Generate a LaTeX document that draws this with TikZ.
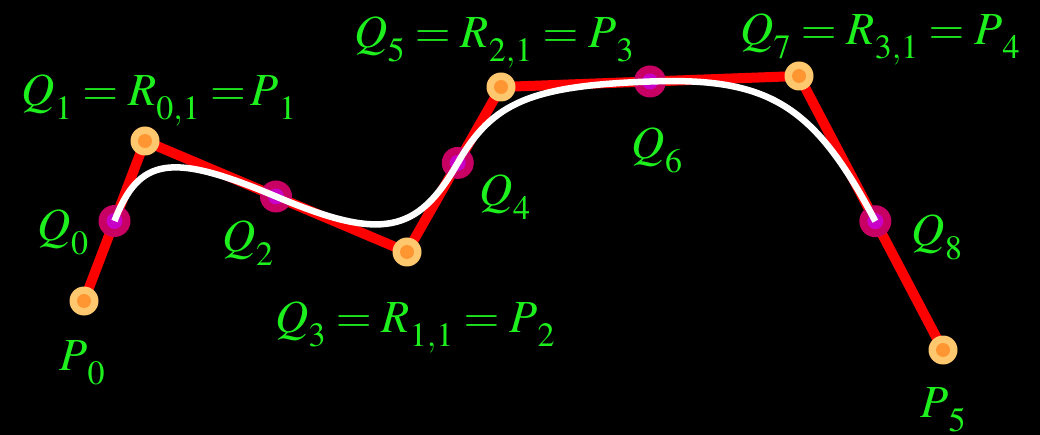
\documentclass[tikz,border=0pt]{standalone}
\usepackage{mathptmx}
\usetikzlibrary{calc}
\DeclareMathSizes{46}{46}{34}{26}
\definecolor{lblgreen}{RGB}{30,240,30}
\definecolor{orangeout}{RGB}{255,200,110}
\definecolor{orangein}{RGB}{255,150,50}
\definecolor{magout}{RGB}{200,0,100}
\definecolor{magin}{RGB}{200,0,200}
\definecolor{polyred}{RGB}{255,0,0}
\newcommand\lsub[1]{\raisebox{-0.3em}{$\scriptstyle #1$}}
\tikzset{
  pdot/.style={circle, fill=orangeout, minimum size=29pt, inner sep=0pt,
    path picture={\fill[orangein] (path picture bounding box.center) circle (7pt);}},
  qdot/.style={circle, fill=magout, minimum size=32pt, inner sep=0pt,
    path picture={\fill[magin] (path picture bounding box.center) circle (8pt);}},
  lbl/.style={text=lblgreen, inner sep=0pt, font=\fontsize{46}{52}\selectfont},
  poly/.style={polyred, line width=10pt, line join=round},
  spline/.style={white, line width=6.5pt}
}
\begin{document}
\begin{tikzpicture}[x=1pt,y=-1pt]
\fill[black] (0,0) rectangle (1040,435);
\useasboundingbox (0,0) rectangle (1040,435);
\coordinate (P0) at (84,301);
\coordinate (P1) at (145,141);
\coordinate (P2) at (407,252);
\coordinate (P3) at (501,87);
\coordinate (P4) at (799,76);
\coordinate (P5) at (943,350);
\coordinate (Q0) at ($(P0)!0.5!(P1)$);
\coordinate (Q2) at ($(P1)!0.5!(P2)$);
\coordinate (Q4) at ($(P2)!0.54!(P3)$);
\coordinate (Q6) at ($(P3)!0.5!(P4)$);
\coordinate (Q8) at ($(P4)!0.53!(P5)$);
% control polygon
\draw[poly] (P0) -- (P1) -- (P2) -- (P3) -- (P4) -- (P5);
% dots
\foreach \i in {0,...,5} { \node[pdot] (p\i) at (P\i) {}; }
\foreach \i in {0,2,4,6,8} { \node[qdot] (q\i) at (Q\i) {}; }
% curve
\def\k{0.8}
\draw[spline] (Q0)
  .. controls ($(Q0)!\k!(P1)$) and ($(Q2)!\k!(P1)$) .. (Q2)
  .. controls ($(Q2)!\k!(P2)$) and ($(Q4)!\k!(P2)$) .. (Q4)
  .. controls ($(Q4)!\k!(P3)$) and ($(Q6)!\k!(P3)$) .. (Q6)
  .. controls ($(Q6)!\k!(P4)$) and ($(Q8)!\k!(P4)$) .. (Q8);
% labels
\node[lbl] (l1) at (159,100) {$Q\lsub{1} = R\lsub{0,1} \mathrel{=}\!P\lsub{1}$};
\node[lbl] (l0) at (63,232) {$Q\lsub{0}$};
\node[lbl] (lp0) at (82,363) {$P\lsub{0}$};
\node[lbl] (l2) at (248,243) {$Q\lsub{2}$};
\node[lbl] (l3) at (415,327) {$Q\lsub{3} = R\lsub{1,1} = P\lsub{2}$};
\node[lbl] (l4) at (505,197) {$Q\lsub{4}$};
\node[lbl] (l5) at (494,42) {$Q\lsub{5} = R\lsub{2,1} = P\lsub{3}$};
\node[lbl] (l6) at (657,150) {$Q\lsub{6}$};
\node[lbl] (l7) at (880,39) {$Q\lsub{7} = R\lsub{3,1} = P\lsub{4}$};
\node[lbl] (l8) at (937,237) {$Q\lsub{8}$};
\node[lbl] (lp5) at (943,410) {$P\lsub{5}$};
\end{tikzpicture}
\end{document}
